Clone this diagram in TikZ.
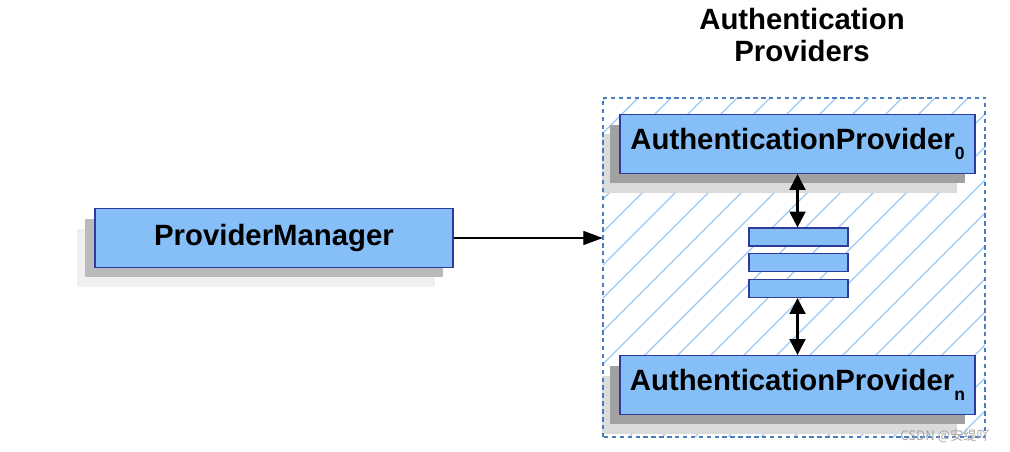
\documentclass[tikz,border=0pt]{standalone}
\usepackage{fontspec}
\setmainfont{Liberation Sans}
\newfontfamily\cjk{Noto Sans CJK SC}
\usetikzlibrary{arrows.meta,shadows}

\definecolor{boxblue}{HTML}{86BEF7}
\definecolor{boxedge}{HTML}{2E3B9C}
\definecolor{hatchblue}{HTML}{9CC9F2}
\definecolor{dashblue}{HTML}{4B7CBF}

\newcommand{\lowsub}[1]{\raisebox{-6pt}{\fontsize{10}{10}\selectfont #1}}

\tikzset{
  provbox/.style 2 args={draw=boxedge, fill=boxblue, line width=0.7pt,
    minimum height=1.18cm, inner sep=0pt,
    font=\fontsize{16.7}{20}\selectfont\bfseries,
    general shadow={fill=#2, shadow xshift=-0.36cm, shadow yshift=-0.4cm},
    general shadow={fill=#1, shadow xshift=-0.2cm, shadow yshift=-0.2cm}},
  stackbar/.style={draw=boxedge, fill=boxblue, line width=0.7pt,
    minimum width=1.98cm, minimum height=0.36cm, inner sep=0pt},
  hatchline/.style={hatchblue, solid, line width=0.7pt},
  groupedge/.style={draw=dashblue, dash pattern=on 2.5pt off 2pt, line width=1.1pt},
  link/.style={-{Triangle[length=11pt,width=8pt]}, line width=0.6pt},
  twoway/.style={{Triangle[length=9pt,width=9pt]}-{Triangle[length=9pt,width=9pt]}, line width=1.4pt}
}

\begin{document}
\begin{tikzpicture}[x=0.02cm, y=-0.02cm]
\fill[white] (0,0) rectangle (1010,452);
\useasboundingbox (0,0) rectangle (1010,452);

% hatched group area
\node (region) [minimum width=7.64cm, minimum height=6.78cm, inner sep=0pt,
  path picture={
    \foreach \k in {-370,-337,...,420}
      \draw[hatchline] ([xshift=\k*0.02cm]path picture bounding box.south west) -- ++(360,-360);
  }] at (794,267.5) {};

\node (title) [align=center, font=\fontsize{16.7}{18.7}\selectfont\bfseries] at (802,35) {Authentication\\Providers};

\node (pm) [provbox={black!27}{black!6}, minimum width=7.16cm] at (274,238) {ProviderManager};
\node (ap0) [provbox={black!37}{black!14}, minimum width=7.1cm] at (797.5,144)
  {AuthenticationProvider\lowsub{0}};
\node (apn) [provbox={black!37}{black!14}, minimum width=7.1cm] at (797.5,385)
  {AuthenticationProvider\lowsub{n}};

\node (bar1) [stackbar] at (798.5,237) {};
\node (bar2) [stackbar] at (798.5,262.5) {};
\node (bar3) [stackbar] at (798.5,288.5) {};

% dashed frame on top
\draw[groupedge] (region.south west) rectangle (region.north east);

\draw[link] (pm.east) -- (pm.east -| region.west);
\draw[twoway] (ap0.south) -- (bar1.north -| ap0.south);
\draw[twoway] (bar3.south -| apn.north) -- (apn.north);

\node (mark) [text=black!35, font=\cjk\fontsize{7.5}{9}\selectfont] at (945,436) {CSDN @安缇吖};
\end{tikzpicture}
\end{document}
